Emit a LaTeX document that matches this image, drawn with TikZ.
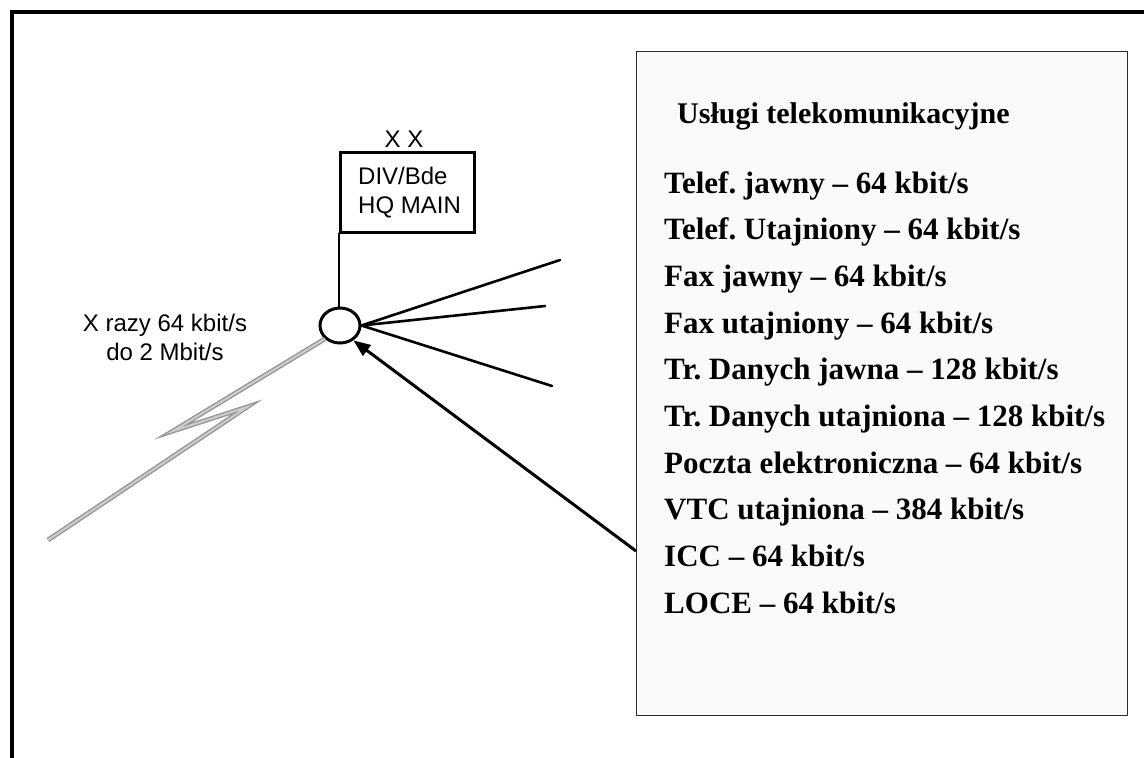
\documentclass[tikz,border=0pt]{standalone}
\usepackage{fontspec}
\setmainfont{Liberation Serif}
\newfontfamily\arialfont{Liberation Sans}
\usetikzlibrary{arrows.meta,shapes.geometric}
\definecolor{panelfill}{RGB}{249,250,252}
\definecolor{panelline}{RGB}{45,45,50}
\definecolor{boltgray}{RGB}{150,150,150}
\definecolor{boltlight}{RGB}{205,205,205}
\frenchspacing
\begin{document}
\begin{tikzpicture}[x=1pt,y=-1pt,
  sanslabel/.style={font=\arialfont\fontsize{24}{29}\selectfont, inner sep=0pt},
  titletext/.style={font=\bfseries\fontsize{30}{36}\selectfont, anchor=base west, inner sep=0pt},
  servicetext/.style={font=\bfseries\fontsize{31}{37}\selectfont, anchor=base west, inner sep=0pt},
  wire/.style={line width=2.6pt, line cap=round},
  bolt/.style={draw=boltgray, double=boltlight, double distance=2pt, line width=1.4pt, line join=miter},
  feed/.style={line width=3pt, -{Triangle[length=17pt,width=13pt]}}]
\useasboundingbox (0,0) rectangle (1144,758);
\clip (0,0) rectangle (1144,758);

% outer frame (only its top and left sides fall on the page)
\draw[line width=4pt] (11.5,800) -- (11.5,11.5) -- (1200,11.5);

% headquarters flag box
\node[draw, line width=2.5pt, anchor=north west, minimum width=134pt, minimum height=80pt,
      inner sep=0pt] (hq) at (339,151) {};
\node[sanslabel, anchor=west, align=left] (hqname) at (358,192.5) {DIV/Bde\\HQ MAIN};
\node[sanslabel, anchor=base] (echelon) at (404,147) {X X};

% node circle
\node[draw, ellipse, line width=3pt, minimum width=40pt, minimum height=35pt, inner sep=0pt] (c) at (340,325.5) {};
\draw[wire] (hq.south west) -- (hq.south west |- c.north);

% outgoing lines
\coordinate (f1) at (560,260);
\coordinate (f2) at (545,306);
\coordinate (f3) at (552,386);
\draw[wire] (c.east) -- (f1);
\draw[wire] (c.east) -- (f2);
\draw[wire] (c.east) -- (f3);

% radio link
\coordinate (b1) at (173,431);
\coordinate (b2) at (247,407);
\coordinate (b3) at (48,540);
\draw[bolt] (c.south west) -- (b1) -- (b2) -- (b3);
\node[sanslabel, align=center] (rate) at (165,337) {X razy 64 kbit/s\\do 2 Mbit/s};

% services panel
\node[draw=panelline, fill=panelfill, line width=1.4pt, anchor=north west,
      minimum width=491pt, minimum height=664pt, inner sep=0pt] (svc) at (636,51) {};
\node[titletext] (title) at (677,123) {Usługi telekomunikacyjne};
\foreach \t [count=\i] in {
  {Telef. jawny – 64 kbit/s},
  {Telef. Utajniony – 64 kbit/s},
  {Fax jawny – 64 kbit/s},
  {Fax utajniony – 64 kbit/s},
  {Tr. Danych jawna – 128 kbit/s},
  {Tr. Danych utajniona – 128 kbit/s},
  {Poczta elektroniczna – 64 kbit/s},
  {VTC utajniona – 384 kbit/s},
  {ICC – 64 kbit/s},
  {LOCE – 64 kbit/s}}
  \node[servicetext] (s\i) at (664,{193+46.7*(\i-1)}) {\t};

% services feed into the node
\coordinate (a0) at (636,551);
\draw[feed] (a0) -- (c.-48);
\end{tikzpicture}
\end{document}
